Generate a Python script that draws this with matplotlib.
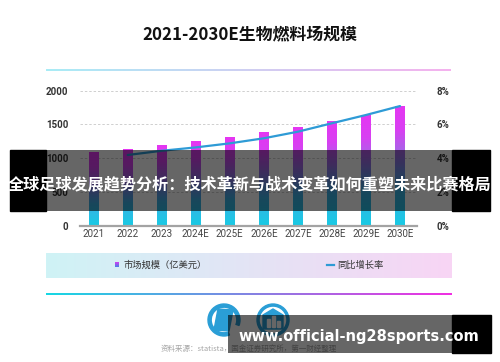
import numpy as np
import matplotlib
matplotlib.use("Agg")
import matplotlib.pyplot as plt
from matplotlib.colors import LinearSegmentedColormap
from matplotlib.patches import Rectangle, Circle, Polygon, Wedge

plt.rcParams['font.family'] = ['Noto Sans CJK SC', 'DejaVu Sans']

# --- data ---
years = ['2021', '2022', '2023', '2024E', '2025E', '2026E', '2027E', '2028E', '2029E', '2030E']
market = [1095, 1140, 1195, 1255, 1310, 1385, 1462, 1546, 1640, 1770]
growth_years = years[1:]
growth = [4.19, 4.44, 4.64, 4.88, 5.18, 5.57, 6.07, 6.56, 7.09]
left_ticks = [0, 500, 1000, 1500, 2000]
right_ticks = [0, 2, 4, 6, 8]

title = '2021-2030E生物燃料场规模'
bar_name = '市场规模（亿美元）'
line_name = '同比增长率'
source = '资料来源：statista，国金证券研究所，第一财经整理'
banner_text = '全球足球发展趋势分析：技术革新与战术变革如何重塑未来比赛格局'
site_text = 'www.official-ng28sports.com'

W, H = 500, 362
fig = plt.figure(figsize=(W / 100, H / 100), dpi=100)
fig.patch.set_facecolor('white')

bar_cmap = LinearSegmentedColormap.from_list(
    'bar', [(0, '#17cbe4'), (0.3, '#3cb2e6'), (0.6, '#a06ae6'), (0.8, '#d840f2'), (1, '#e536f2')])
LINE_BLUE = '#2e9bd6'

# --- main axes ---
ax = fig.add_axes([80 / W, 1 - 225.7 / H, 337 / W, 135 / H])
ax.set_facecolor('none')
x = np.arange(len(years))
bw = 0.28
bars = ax.bar(x, market, width=bw, color='none', edgecolor='none', zorder=2)
grad = np.linspace(0, 1, 256).reshape(-1, 1)
for xi, v, patch in zip(x, market, bars.patches):
    im = ax.imshow(grad, extent=[xi - bw / 2, xi + bw / 2, 0, v], aspect='auto',
                   cmap=bar_cmap, origin='lower', zorder=2)
    im.set_clip_path(patch)

ax.set_xlim(-0.4, 9.5)
ax.set_ylim(0, 2000)
ax.set_yticks(left_ticks)
ax.set_xticks(x, years)
for s in ['top', 'left', 'right']:
    ax.spines[s].set_visible(False)
ax.spines['bottom'].set_color('#a3a3a3')
ax.spines['bottom'].set_linewidth(1.6)
ax.grid(axis='y', color='#cfcfcf', linestyle=(0, (2.5, 2)), linewidth=0.7)
ax.set_axisbelow(True)
ax.tick_params(axis='y', length=0, pad=8.5, labelsize=7, labelcolor='#333333')
ax.tick_params(axis='x', length=0, pad=2.5, labelsize=7, labelcolor='#444444')
for t in ax.get_yticklabels():
    t.set_fontfamily('Roboto')
    t.set_fontweight('bold')
for t in ax.get_xticklabels():
    t.set_fontfamily('Roboto')

ax2 = ax.twinx()
ax2.plot(x[1:], growth, color=LINE_BLUE, linewidth=1.6, zorder=3, solid_capstyle='round')
ax2.set_ylim(0, 8)
ax2.set_yticks(right_ticks, [f'{t}%' for t in right_ticks])
for s in ax2.spines.values():
    s.set_visible(False)
ax2.tick_params(axis='y', length=0, pad=14, labelsize=7, labelcolor='#333333')
for t in ax2.get_yticklabels():
    t.set_fontfamily('Roboto')
    t.set_fontweight('bold')

# --- decoration layer in pixel coordinates ---
ov = fig.add_axes([0, 0, 1, 1], zorder=10)
ov.set_xlim(0, W)
ov.set_ylim(H, 0)
ov.axis('off')
ov.patch.set_visible(False)

hgrad = np.linspace(0, 1, 256).reshape(1, -1)

def hbar(x0, x1, y0, y1, c0, c1, z=1):
    cm = LinearSegmentedColormap.from_list('g', [c0, c1])
    ov.imshow(hgrad, extent=[x0, x1, y1, y0], aspect='auto', cmap=cm, zorder=z)

ov.text(249.5, 34, title, ha='center', va='center', fontsize=12.2,
        fontweight='bold', color='#111111')
hbar(46, 451, 69.3, 71.0, '#a9ecf6', '#f5b2ee')

# legend box
hbar(46, 452, 252.7, 277.7, '#cff3f6', '#f8d5f4')
sq = np.linspace(0, 1, 16).reshape(-1, 1)
ov.imshow(sq, extent=[114.5, 118.5, 267, 262.5], aspect='auto',
          cmap=LinearSegmentedColormap.from_list('s', ['#4a7ee8', '#d13ef0']),
          origin='lower', zorder=2)
ov.text(123.5, 265.2, bar_name, ha='left', va='center', fontsize=6.7, color='#333333')
ov.plot([326.5, 333.5], [265.2, 265.2], color=LINE_BLUE, linewidth=1.6, zorder=2)
ov.text(337, 265.2, line_name, ha='left', va='center', fontsize=6.7, color='#333333')

hbar(46, 452, 293.3, 294.8, '#16d8e4', '#f12fe2')

# logos
LOGO = '#2a9ed6'
ov.add_patch(Wedge((224, 320), 16, 70, 20, width=3.2, color=LOGO, zorder=2))
ov.add_patch(Polygon([[218, 309], [233, 310], [229, 331], [214, 330]], closed=True,
                     color=LOGO, zorder=2))
ov.add_patch(Circle((273, 320), 16, color=LOGO, zorder=2))
ov.add_patch(Circle((273, 320), 12.5, color='white', zorder=2))
ov.add_patch(Polygon([[263, 315], [273, 309], [283, 315], [283, 329], [263, 329]],
                     closed=True, color=LOGO, zorder=2))
for bx, bh in [(267, 8), (272, 11), (277, 6)]:
    ov.add_patch(Rectangle((bx, 327 - bh), 2.5, bh, color='white', zorder=2))

ov.text(248.5, 349, source, ha='center', va='center', fontsize=5.4, color='#a6a6a6')

# overlay banners
ov.add_patch(Rectangle((10, 150), 36, 61, color='black', zorder=5))
ov.add_patch(Rectangle((46, 150), 406, 61, color='black', alpha=0.6, linewidth=0, zorder=5))
ov.add_patch(Rectangle((452, 150), 38, 61, color='black', zorder=5))
ov.text(250, 184.5, banner_text, ha='center', va='center', fontsize=11.6,
        fontweight='bold', color='white', zorder=6)

ov.add_patch(Rectangle((228, 315), 224, 38, color='black', alpha=0.6, linewidth=0, zorder=5))
ov.add_patch(Rectangle((452, 315), 39, 38, color='black', zorder=5))
ov.text(358.5, 336, site_text, ha='center', va='center', fontsize=10.5,
        fontweight='bold', color='white', family='DejaVu Sans', zorder=6)

fig.savefig('out.png', dpi=100)
